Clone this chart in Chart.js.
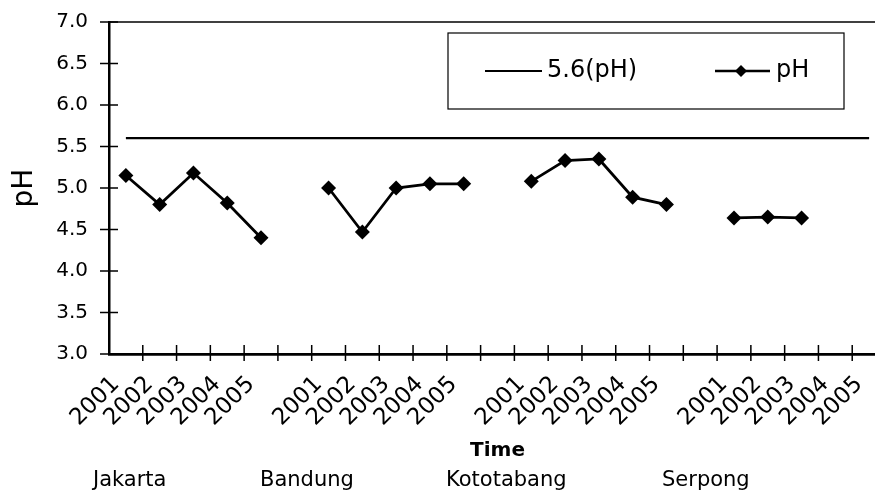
<!DOCTYPE html>
<html>
<head>
<meta charset="utf-8">
<script src="https://cdn.jsdelivr.net/npm/chart.js@4.4.1/dist/chart.umd.min.js"></script>
<style>
  html, body { margin: 0; padding: 0; background: #fff; overflow: hidden; }
  canvas { display: block; }
</style>
</head>
<body>
<canvas id="phChart" width="900" height="499"></canvas>
<script>
// values
const years = ['2001', '2002', '2003', '2004', '2005'];
const stations = ['Jakarta', 'Bandung', 'Kototabang', 'Serpong'];
const jakarta = [5.15, 4.80, 5.18, 4.82, 4.40];
const bandung = [5.00, 4.47, 5.00, 5.05, 5.05];
const kototabang = [5.08, 5.33, 5.35, 4.89, 4.80];
const serpong = [4.64, 4.65, 4.64, null, null];
const phLimit = 5.6;

// one blank category between stations
const categories = [...years, '', ...years, '', ...years, '', ...years];
const phSeries = [...jakarta, null, ...bandung, null, ...kototabang, null, ...serpong];
const limitSeries = categories.map(() => phLimit);

const FONT = 'DejaVu Sans';

const decorations = {
    id: 'decorations',
    afterDraw(chart) {
        const { ctx, chartArea: a, scales: { x, y } } = chart;
        ctx.save();
        ctx.strokeStyle = '#000';
        ctx.fillStyle = '#000';

        // top frame line
        ctx.lineWidth = 1.5;
        ctx.beginPath();
        ctx.moveTo(a.left, a.top);
        ctx.lineTo(a.right, a.top);
        ctx.stroke();

        // cross tick marks
        ctx.lineWidth = 1.5;
        ctx.beginPath();
        y.ticks.forEach(t => {
            const py = y.getPixelForValue(t.value);
            ctx.moveTo(a.left - 9, py);
            ctx.lineTo(a.left + 9, py);
        });
        const step = x.getPixelForValue(1) - x.getPixelForValue(0);
        for (let i = 1; i <= categories.length; i++) {
            const px = x.getPixelForValue(i) - step / 2;
            ctx.moveTo(px, a.bottom - 9);
            ctx.lineTo(px, a.bottom + 7);
        }
        ctx.stroke();

        // legend box
        const lx = 448, ly = 33, lw = 396, lh = 76;
        const cy = ly + lh / 2;
        ctx.lineWidth = 1.2;
        ctx.strokeRect(lx, ly, lw, lh);
        ctx.font = '24px ' + FONT;
        ctx.textBaseline = 'middle';
        ctx.textAlign = 'left';
        ctx.lineWidth = 2;
        ctx.beginPath();
        ctx.moveTo(485, cy);
        ctx.lineTo(542, cy);
        ctx.stroke();
        ctx.fillText(chart.data.datasets[0].label, 547, cy);
        ctx.lineWidth = 2.5;
        ctx.beginPath();
        ctx.moveTo(715, cy);
        ctx.lineTo(770, cy);
        ctx.stroke();
        ctx.beginPath();
        ctx.moveTo(741, cy - 6);
        ctx.lineTo(747, cy);
        ctx.lineTo(741, cy + 6);
        ctx.lineTo(735, cy);
        ctx.closePath();
        ctx.fill();
        ctx.fillText(chart.data.datasets[1].label, 776, cy);

        // station names under the axis
        const nameX = [93, 260, 446, 662];
        ctx.font = '21px ' + FONT;
        stations.forEach((s, i) => ctx.fillText(s, nameX[i], 481));
        ctx.restore();
    }
};

new Chart(document.getElementById('phChart'), {
    type: 'line',
    data: {
        labels: categories,
        datasets: [{
            label: '5.6(pH)',
            data: limitSeries,
            borderColor: '#000',
            borderWidth: 2.2,
            pointRadius: 0,
            fill: false
        }, {
            label: 'pH',
            data: phSeries,
            borderColor: '#000',
            borderWidth: 2.8,
            pointStyle: 'rectRot',
            pointRadius: 7.5,
            pointBackgroundColor: '#000',
            pointBorderWidth: 0,
            spanGaps: false,
            fill: false
        }]
    },
    options: {
        responsive: false,
        animation: false,
        devicePixelRatio: 1,
        layout: { padding: { left: 0, top: 22, right: 14, bottom: 0 } },
        plugins: {
            legend: { display: false },
            tooltip: { enabled: false }
        },
        scales: {
            x: {
                offset: true,
                grid: { display: false, drawTicks: false },
                border: { display: true, color: '#000', width: 2.8 },
                ticks: {
                    autoSkip: false,
                    minRotation: 45,
                    maxRotation: 45,
                    padding: 17,
                    labelOffset: -10,
                    color: '#000',
                    font: { family: FONT, size: 23 }
                },
                title: {
                    display: true,
                    text: 'Time',
                    color: '#000',
                    font: { family: FONT, size: 20, weight: 'bold' },
                    padding: { top: 0, bottom: 36 }
                },
                afterFit(scale) {
                    scale.height = 145;
                    scale.paddingLeft = 0;
                    scale.paddingRight = 0;
                }
            },
            y: {
                min: 3,
                max: 7,
                grid: { display: false, drawTicks: false },
                border: { display: true, color: '#000', width: 2.5 },
                ticks: {
                    stepSize: 0.5,
                    padding: 21,
                    color: '#000',
                    font: { family: FONT, size: 20 },
                    callback: v => v.toFixed(1)
                },
                title: {
                    display: true,
                    text: 'pH',
                    color: '#000',
                    font: { family: FONT, size: 28 },
                    padding: { top: 8, bottom: 0 }
                },
                afterFit(scale) {
                    scale.width = 109;
                    scale.paddingTop = 0;
                    scale.paddingBottom = 0;
                }
            }
        }
    },
    plugins: [decorations]
});
</script>
</body>
</html>
